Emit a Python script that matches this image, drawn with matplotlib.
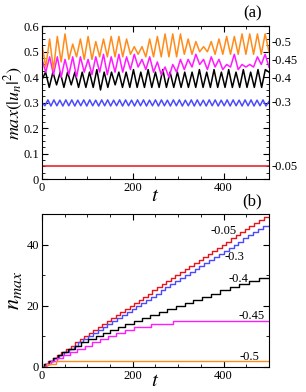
import matplotlib
matplotlib.use('Agg')
import matplotlib.pyplot as plt
import numpy as np
from matplotlib.ticker import MultipleLocator, FuncFormatter

plt.rcParams['font.family'] = 'Liberation Serif'
plt.rcParams['mathtext.fontset'] = 'stix'

# panel (a): extrema of max|u_n|^2, sampled evenly over t = 0..500
amp_m05 = [0.53, 0.44, 0.55, 0.43, 0.56, 0.46, 0.57, 0.47, 0.53, 0.48, 0.55, 0.47,
           0.56, 0.47, 0.54, 0.48, 0.55, 0.48, 0.56, 0.48, 0.56, 0.48, 0.55, 0.49,
           0.52, 0.49, 0.52, 0.48, 0.55, 0.48, 0.56, 0.48, 0.57, 0.48, 0.57, 0.48,
           0.57, 0.49, 0.55, 0.49, 0.54, 0.50, 0.52, 0.50, 0.54, 0.49, 0.55, 0.49,
           0.56, 0.49, 0.56, 0.49, 0.57, 0.49, 0.57, 0.49, 0.57, 0.49, 0.57, 0.50]
amp_m045 = [0.47, 0.42, 0.48, 0.41, 0.48, 0.40, 0.47, 0.41, 0.48, 0.40, 0.48, 0.42,
            0.47, 0.41, 0.48, 0.42, 0.49, 0.41, 0.48, 0.42, 0.49, 0.42, 0.48, 0.43,
            0.49, 0.44, 0.47, 0.43, 0.48, 0.42, 0.46, 0.41, 0.44, 0.40, 0.45, 0.42,
            0.47, 0.43, 0.47, 0.44, 0.49, 0.45, 0.47, 0.43, 0.48, 0.44, 0.47, 0.43,
            0.45, 0.44, 0.49, 0.43, 0.45, 0.44, 0.45, 0.44, 0.48, 0.45, 0.49, 0.44]
amp_m04 = [0.39, 0.42, 0.36, 0.42, 0.37, 0.42, 0.36, 0.42, 0.37, 0.42, 0.36, 0.42,
           0.36, 0.42, 0.36, 0.43, 0.35, 0.42, 0.36, 0.42, 0.37, 0.42, 0.36, 0.42,
           0.36, 0.43, 0.36, 0.42, 0.36, 0.43, 0.36, 0.42, 0.36, 0.43, 0.36, 0.42,
           0.36, 0.42, 0.36, 0.42, 0.36, 0.42, 0.36, 0.43, 0.36, 0.42, 0.36, 0.43,
           0.36, 0.42, 0.36, 0.43, 0.36, 0.42, 0.36, 0.43, 0.36, 0.42, 0.36, 0.43,
           0.36, 0.43, 0.42]
amp_m03 = [0.300, 0.288, 0.311, 0.287, 0.311, 0.288, 0.310, 0.287, 0.311, 0.288,
           0.311, 0.287, 0.310, 0.288, 0.311, 0.287, 0.311, 0.288, 0.310, 0.287,
           0.311, 0.288, 0.311, 0.287, 0.310, 0.288, 0.311, 0.287, 0.311, 0.288,
           0.310, 0.287, 0.311, 0.288, 0.311, 0.287, 0.310, 0.288, 0.311, 0.287,
           0.311, 0.288, 0.310, 0.287, 0.311, 0.288, 0.311, 0.287, 0.310, 0.288,
           0.311, 0.287, 0.311, 0.288, 0.310, 0.287, 0.311, 0.288, 0.311, 0.287,
           0.310, 0.288, 0.311, 0.287, 0.311, 0.288, 0.310, 0.287, 0.311, 0.288,
           0.311, 0.287, 0.310, 0.288, 0.311, 0.287, 0.305]
amp_m005 = [0.05, 0.05]

# panel (b): times at which n_max jumps by one
jumps_m005 = [4, 14, 24, 33, 43, 53, 63, 73, 83, 93, 103, 113, 123, 133, 143, 153,
              163, 173, 183, 193, 203, 213, 223, 233, 243, 253, 264, 274, 284, 294,
              304, 314, 324, 335, 345, 355, 365, 375, 386, 396, 406, 416, 427, 437,
              447, 457, 468, 478, 488]
jumps_m03 = [6, 16, 27, 38, 48, 59, 70, 80, 91, 102, 112, 123, 134, 144, 155, 166,
             176, 187, 198, 208, 219, 230, 240, 251, 262, 272, 283, 294, 304, 315,
             326, 336, 347, 358, 368, 379, 390, 400, 411, 422, 432, 443, 454, 464,
             475, 486]
jumps_m04 = [5, 15, 25, 35, 45, 58, 72, 87, 102, 118, 134, 150, 167, 184, 202, 220,
             238, 257, 276, 295, 314, 333, 353, 373, 393, 414, 435, 456, 478]
jumps_m045 = [8, 20, 33, 47, 62, 78, 94, 110, 127, 145, 163, 182, 203, 240, 288]
jumps_m05 = [12, 30]

labels = ['-0.05', '-0.3', '-0.4', '-0.45', '-0.5']
colors = ['#e8141a', '#4a4aff', 'black', '#ff1aff', '#ff8c1a']
amps = [amp_m005, amp_m03, amp_m04, amp_m045, amp_m05]
jumps = [jumps_m005, jumps_m03, jumps_m04, jumps_m045, jumps_m05]
tmax = 500

fig = plt.figure(figsize=(3.06, 3.92), dpi=100)
ax0 = fig.add_axes([0.137, 0.543, 0.742, 0.390])
ax1 = fig.add_axes([0.137, 0.064, 0.742, 0.390])

for a, c in zip(amps, colors):
    t = np.linspace(0, tmax, len(a))
    ax0.plot(t, a, c=c, lw=1.1, solid_joinstyle='round')

lab_y0 = [0.048, 0.299, 0.392, 0.463, 0.535]
for lab, yy in zip(labels, lab_y0):
    ax0.text(1.01, yy, lab, transform=ax0.get_yaxis_transform(), fontsize=9,
             va='center', ha='left')

ax0.set_xlim(0, tmax)
ax0.set_ylim(0, 0.6)
ax0.xaxis.set_major_locator(MultipleLocator(200))
ax0.xaxis.set_minor_locator(MultipleLocator(50))
ax0.yaxis.set_major_locator(MultipleLocator(0.1))
ax0.yaxis.set_minor_locator(MultipleLocator(0.025))
ax0.yaxis.set_major_formatter(FuncFormatter(
    lambda v, p: '0' if abs(v) < 1e-9 else '%.1f' % v))
ax0.set_xlabel(r'$t$', fontsize=15, labelpad=-5)
ax0.set_ylabel(r'$max(|u_n|^2)$', fontsize=13, labelpad=-1)
ax0.text(0.97, 1.03, '(a)', transform=ax0.transAxes, fontsize=12, ha='right', va='bottom')

for j, c in zip(jumps, colors):
    x = [0] + j + [tmax]
    y = list(range(len(j) + 1)) + [len(j)]
    ax1.step(x, y, where='post', c=c, lw=1.0)

lab_pos1 = [(372, 44.4), (402, 35.9), (410, 28.6), (432, 16.6), (436, 3.4)]
for lab, (xx, yy) in zip(labels, lab_pos1):
    ax1.text(xx, yy, lab, fontsize=9, va='center', ha='left')

ax1.set_xlim(0, tmax)
ax1.set_ylim(0, 50)
ax1.xaxis.set_major_locator(MultipleLocator(200))
ax1.xaxis.set_minor_locator(MultipleLocator(50))
ax1.yaxis.set_major_locator(MultipleLocator(20))
ax1.yaxis.set_minor_locator(MultipleLocator(10))
ax1.set_xlabel(r'$t$', fontsize=15, labelpad=-7)
ax1.set_ylabel(r'$n_{max}$', fontsize=16, labelpad=2)
ax1.text(0.97, 1.03, '(b)', transform=ax1.transAxes, fontsize=12, ha='right', va='bottom')

for ax in [ax0, ax1]:
    ax.tick_params(which='both', direction='in', top=True, right=True, labelsize=9, pad=2)
    ax.tick_params(which='major', length=4)
    ax.tick_params(which='minor', length=2)

fig.savefig('out.png', dpi=100)
